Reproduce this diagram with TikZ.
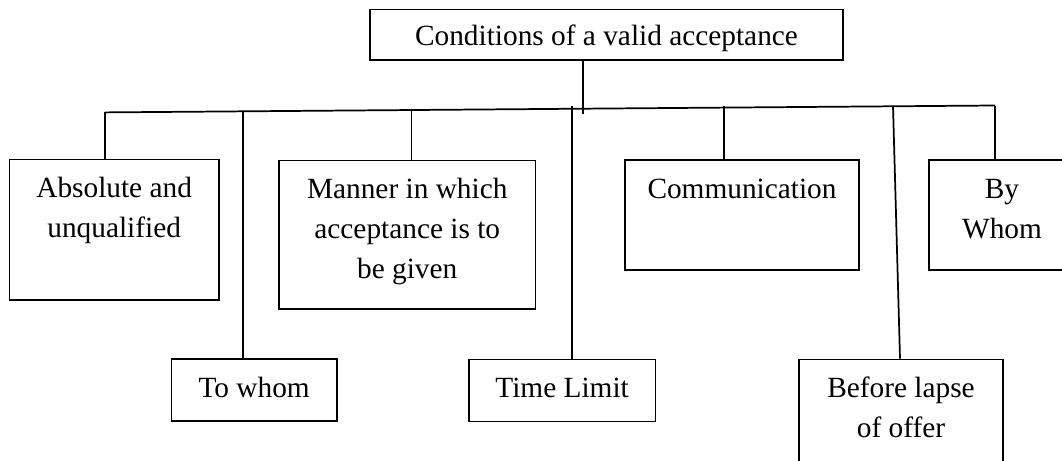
\documentclass[tikz,border=0pt]{standalone}
\usepackage{fontspec}
\setmainfont{Liberation Serif}
\begin{document}
\begin{tikzpicture}[x=0.75pt,y=-0.75pt,
  boxn/.style={draw,line width=1.3pt,inner sep=0pt},
  txt/.style={align=center,inner sep=0pt,anchor=base,font=\fontsize{22}{30}\selectfont},
  conn/.style={line width=1.3pt}]
\useasboundingbox (0,0) rectangle (1062,460);
% boxes
\node[boxn,minimum width=354.75pt,minimum height=37.9pt] (top) at (606.5,34.75) {};
\node[boxn,minimum width=156.8pt,minimum height=105.3pt] (abs) at (114.15,229.8) {};
\node[boxn,minimum width=192.4pt,minimum height=111.1pt] (man) at (407.25,234.65) {};
\node[boxn,minimum width=175.5pt,minimum height=82.5pt] (com) at (742,215) {};
\node[boxn,minimum width=109.5pt,minimum height=82.5pt] (by) at (1002,215) {};
\node[boxn,minimum width=124pt,minimum height=46.5pt] (tow) at (254.15,390.2) {};
\node[boxn,minimum width=140.1pt,minimum height=46.5pt] (tim) at (562.1,390.6) {};
\node[boxn,minimum width=153pt,minimum height=112.5pt] (bef) at (901,434.5) {};
% labels (base = baseline of last line)
\node[txt] (topT) at ([yshift=-27.75pt]top.north) {Conditions of a valid acceptance};
\node[txt] (absT) at ([yshift=-59.25pt]abs.north) {Absolute and\\unqualified};
\node[txt] (manT) at ([yshift=-89.25pt]man.north) {Manner in which\\acceptance is to\\be given};
\node[txt] (comT) at ([yshift=-29.25pt]com.north) {Communication};
\node[txt] (byT) at ([yshift=-59.25pt]by.north) {By\\Whom};
\node[txt] (towT) at ([yshift=-29.25pt]tow.north) {To whom};
\node[txt] (timT) at ([yshift=-29.25pt]tim.north) {Time Limit};
\node[txt] (befT) at ([yshift=-59.25pt]bef.north) {Before lapse\\of offer};
% connectors
\coordinate (bl) at (105,112.4);
\coordinate (br) at (995,105.5);
\coordinate (tj) at (583,113.5);
\coordinate (c2) at (243,111.3);
\coordinate (c3) at (411.5,109.9);
\coordinate (c4) at (572,105.5);
\coordinate (c5) at (724,106);
\coordinate (c6) at (893,106);
\draw[conn] (top.south -| tj) -- (tj);
\draw[conn] (bl) -- (br);
\draw[conn] (bl) -- (abs.north -| bl);
\draw[conn] (c2) -- (tow.north -| c2);
\draw[conn] (c3) -- (man.north -| c3);
\draw[conn] (c4) -- (tim.north -| c4);
\draw[conn] (c5) -- (com.north -| c5);
\draw[conn] (c6) -- ([xshift=-0.75pt]bef.north);
\draw[conn] (br) -- (by.north -| br);
\end{tikzpicture}
\end{document}
